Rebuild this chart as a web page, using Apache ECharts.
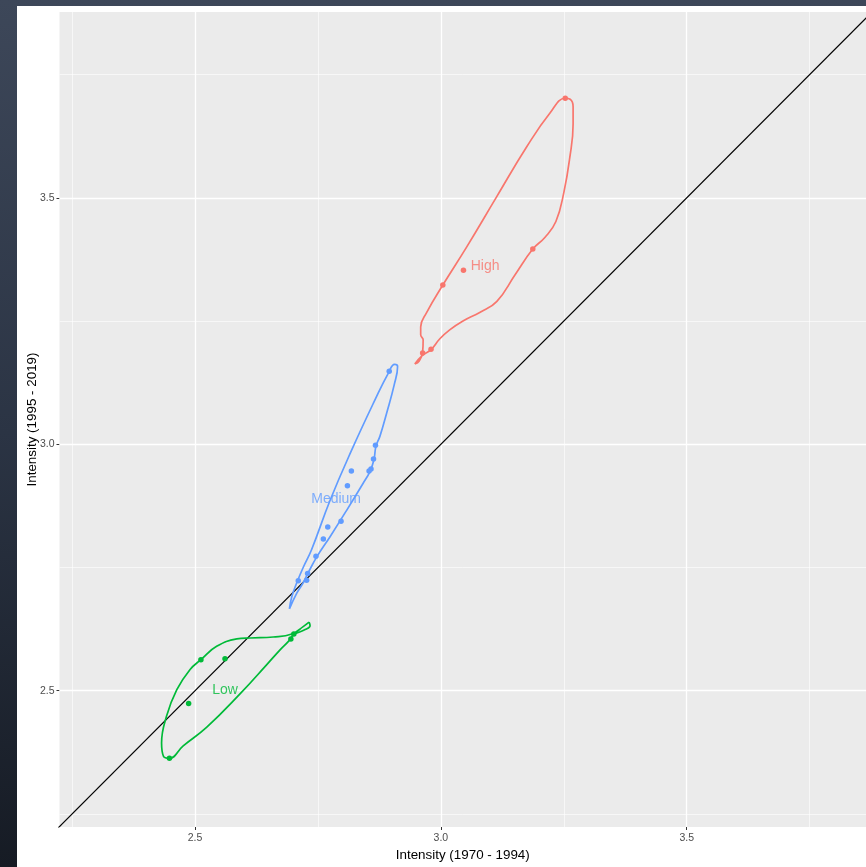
<!DOCTYPE html>
<html>
<head>
<meta charset="utf-8">
<script src="https://cdn.jsdelivr.net/npm/echarts@6/dist/echarts.min.js"></script>
<style>
html,body{margin:0;padding:0;width:866px;height:867px;overflow:hidden;
background:linear-gradient(180deg,#3d4759 0%,#2b3444 50%,#161b24 100%);}
#paper{position:absolute;left:17px;top:6px;width:849px;height:861px;background:#ffffff;}
#chart{position:absolute;left:0;top:0;width:866px;height:867px;}
</style>
</head>
<body>
<div id="paper"></div>
<div id="chart"></div>
<script>
// ---- data ----
const xTicks = [2.5, 3.0, 3.5];
const yTicks = [2.5, 3.0, 3.5];
const minorX = [2.25, 2.75, 3.25, 3.75];
const minorY = [2.25, 2.75, 3.25, 3.75];
const xRange = [2.2244, 3.8647];
const yRange = [2.2235, 3.877];

const highPoints = [[3.253,3.702],[3.187,3.396],[3.004,3.323],[3.046,3.353],[2.980,3.193],[2.963,3.185]];
const mediumPoints = [[2.895,3.148],[2.867,2.998],[2.863,2.970],[2.858,2.950],[2.854,2.946],[2.818,2.946],
  [2.810,2.916],[2.797,2.844],[2.770,2.832],[2.761,2.808],[2.746,2.773],[2.729,2.738],[2.727,2.724],[2.710,2.723]];
const lowPoints = [[2.512,2.563],[2.561,2.565],[2.487,2.474],[2.448,2.363],[2.695,2.605],[2.701,2.615]];

const highOutline = [[2.947,3.163],[2.956,3.169],[2.963,3.188],[2.964,3.212],[2.959,3.222],[2.959,3.238],
  [2.971,3.267],[3.004,3.323],[3.053,3.401],[3.114,3.503],[3.175,3.604],[3.222,3.672],[3.253,3.702],
  [3.263,3.700],[3.269,3.685],[3.269,3.650],[3.262,3.580],[3.250,3.510],[3.234,3.452],[3.212,3.420],
  [3.187,3.396],[3.151,3.344],[3.114,3.290],[3.080,3.268],[3.045,3.250],[3.018,3.232],[2.998,3.214],
  [2.980,3.192],[2.962,3.180],[2.947,3.163]];
const mediumOutline = [[2.692,2.666],[2.697,2.691],[2.707,2.719],[2.720,2.750],[2.737,2.786],[2.775,2.887],
  [2.819,2.989],[2.866,3.090],[2.893,3.144],[2.906,3.162],[2.912,3.158],[2.905,3.120],[2.890,3.064],
  [2.876,3.016],[2.868,2.996],[2.864,2.969],[2.856,2.945],[2.842,2.921],[2.809,2.867],[2.775,2.813],
  [2.748,2.772],[2.730,2.739],[2.720,2.719],[2.707,2.698],[2.692,2.666]];
const lowOutline = [[2.732,2.639],[2.734,2.632],[2.724,2.624],[2.700,2.613],[2.691,2.601],[2.673,2.583],
  [2.646,2.553],[2.592,2.494],[2.524,2.426],[2.476,2.388],[2.448,2.363],[2.436,2.367],[2.432,2.394],
  [2.442,2.448],[2.463,2.502],[2.490,2.543],[2.512,2.563],[2.544,2.590],[2.585,2.605],[2.612,2.607],
  [2.659,2.609],[2.697,2.615],[2.720,2.630],[2.732,2.639]];

const groupLabels = ['High', 'Medium', 'Low'];
const labelPos = [[3.090,3.362],[2.787,2.889],[2.561,2.502]];
const groupColors = ['#F8766D', '#619CFF', '#00BA38'];
const diagonal = [[2.2, 2.2], [3.9, 3.9]];

// ---- chart ----
const chart = echarts.init(document.getElementById('chart'), null, {renderer: 'canvas'});
const font = '"Liberation Sans", Arial, sans-serif';

function gridLines(){
  const d = [];
  minorX.forEach(v => d.push({xAxis: v, lineStyle: {width: 0.6}}));
  minorY.forEach(v => d.push({yAxis: v, lineStyle: {width: 0.6}}));
  xTicks.forEach(v => d.push({xAxis: v, lineStyle: {width: 1.3}}));
  yTicks.forEach(v => d.push({yAxis: v, lineStyle: {width: 1.3}}));
  return d;
}

const outlines = [highOutline, mediumOutline, lowOutline];
const points = [highPoints, mediumPoints, lowPoints];

const series = [{
  type: 'line', data: [], silent: true, z: 1,
  markLine: {silent: true, z: 1, symbol: ['none','none'], label: {show: false},
    lineStyle: {color: '#ffffff', type: 'solid', opacity: 1}, emphasis: {disabled: true},
    animation: false, data: gridLines()}
}, {
  type: 'line', data: diagonal, showSymbol: false, silent: true, z: 10,
  lineStyle: {color: '#000000', width: 1.2}
}];
outlines.forEach((o, i) => series.push({
  type: 'line', data: o, smooth: 0.45, showSymbol: false, silent: true, z: 11,
  lineStyle: {color: groupColors[i], width: 1.7}
}));
points.forEach((p, i) => series.push({
  type: 'scatter', data: p, symbolSize: 5.5, silent: true, z: 12,
  itemStyle: {color: groupColors[i], opacity: 1}
}));
series.push({
  type: 'scatter', symbolSize: 0, silent: true, z: 13,
  data: labelPos.map((p, i) => ({value: p, name: groupLabels[i],
    label: {color: groupColors[i]}})),
  label: {show: true, position: 'inside', formatter: p => p.name,
    fontFamily: font, fontSize: 14}
});

chart.setOption({
  animation: false,
  backgroundColor: 'transparent',
  grid: {left: 59.5, right: 0, top: 12, bottom: 40, show: true,
    backgroundColor: '#EBEBEB', borderWidth: 0, outerBoundsMode: 'none', containLabel: false},
  xAxis: {
    type: 'value', min: xRange[0], max: xRange[1],
    name: 'Intensity (1970 - 1994)', nameLocation: 'middle', nameGap: 22, nameMoveOverlap: false,
    nameTextStyle: {fontFamily: font, fontSize: 13.4, color: '#000'},
    axisLine: {show: false}, splitLine: {show: false},
    axisTick: {show: true, length: 3, customValues: xTicks, lineStyle: {color: '#333', width: 1}},
    axisLabel: {customValues: xTicks, formatter: v => v.toFixed(1), color: '#4D4D4D',
      fontFamily: font, fontSize: 10.5, margin: 6}
  },
  yAxis: {
    type: 'value', min: yRange[0], max: yRange[1],
    name: 'Intensity (1995 - 2019)', nameLocation: 'middle', nameGap: 21, nameMoveOverlap: false,
    nameTextStyle: {fontFamily: font, fontSize: 13.4, color: '#000'},
    axisLine: {show: false}, splitLine: {show: false},
    axisTick: {show: true, length: 3, customValues: yTicks, lineStyle: {color: '#333', width: 1}},
    axisLabel: {customValues: yTicks, formatter: v => v.toFixed(1), color: '#4D4D4D',
      fontFamily: font, fontSize: 10.5, margin: 5}
  },
  series: series
});
</script>
</body>
</html>
